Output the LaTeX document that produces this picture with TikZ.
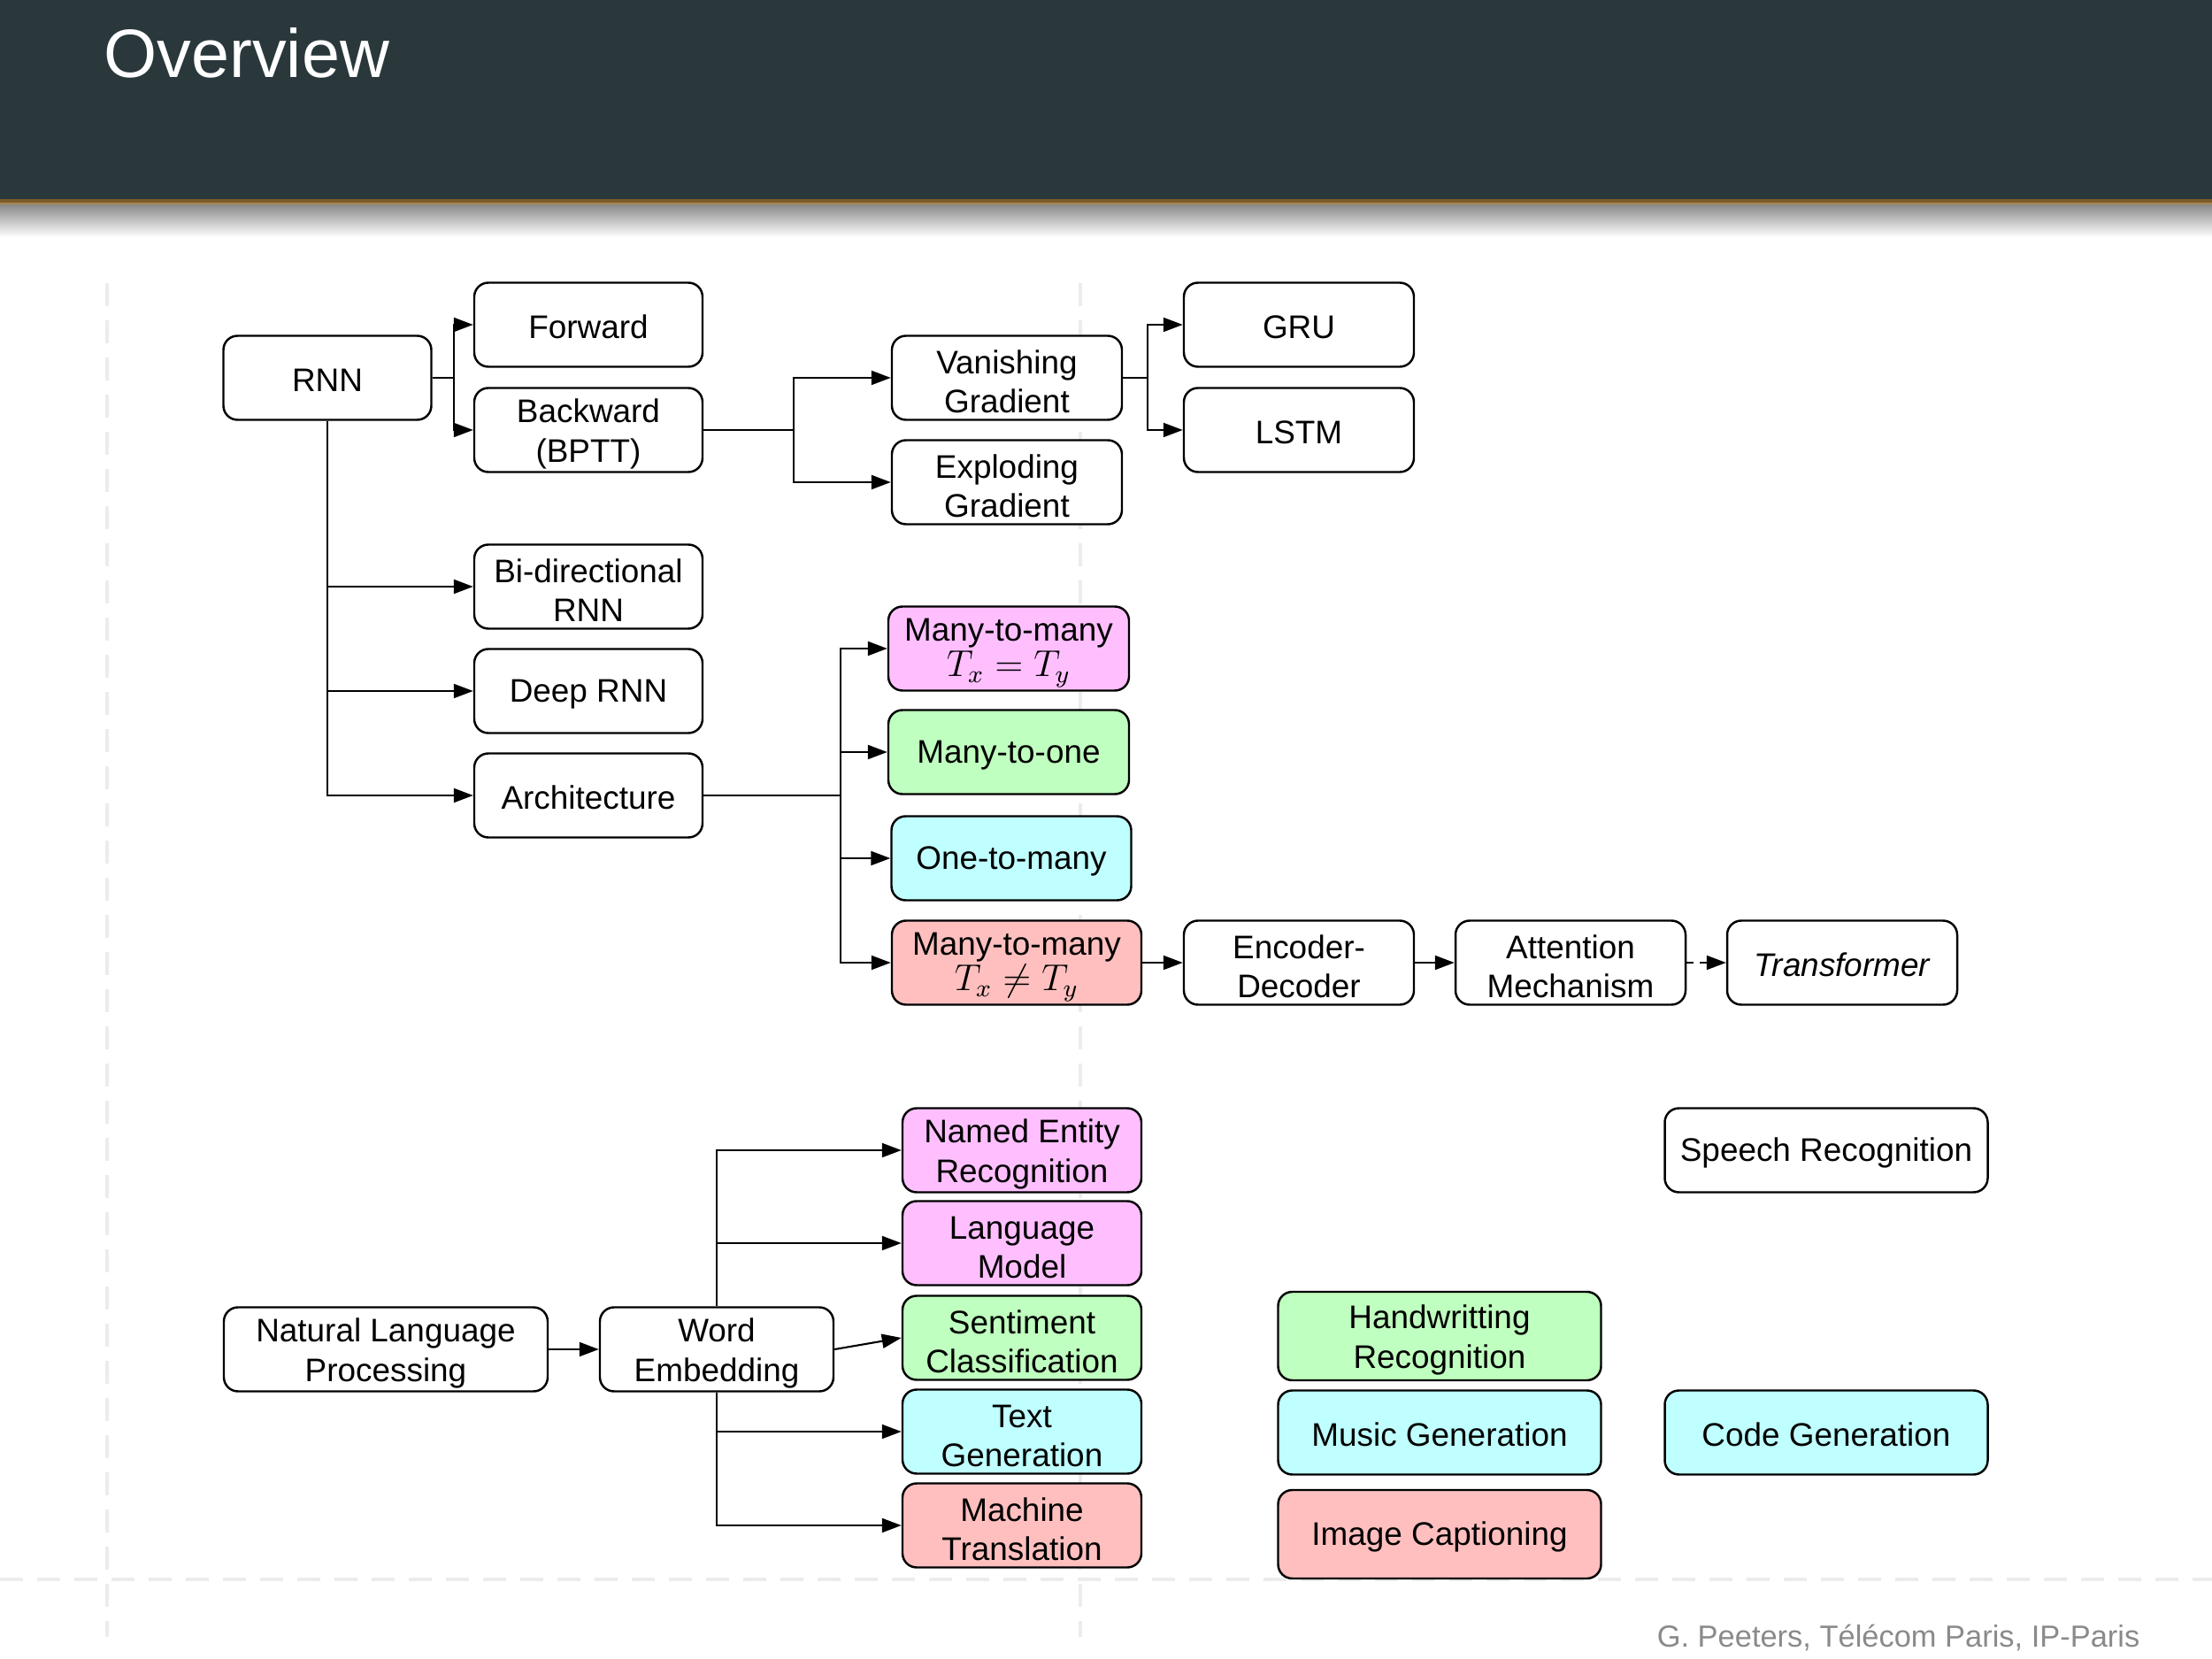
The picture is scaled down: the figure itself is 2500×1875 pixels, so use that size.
\documentclass[tikz,border=0pt]{standalone}
\usepackage{fontspec}
\setmainfont{Liberation Sans}
\usetikzlibrary{arrows.meta}
\definecolor{hdr}{HTML}{2A383C}
\definecolor{goldA}{HTML}{7B5B2B}
\definecolor{goldB}{HTML}{A98654}
\definecolor{pinkc}{HTML}{FFBFFF}
\definecolor{greenc}{HTML}{BFFFBF}
\definecolor{cyanc}{HTML}{BFFFFF}
\definecolor{redc}{HTML}{FFBFBF}
\definecolor{gridc}{HTML}{ECECEC}
\definecolor{footc}{HTML}{8A8A8A}
\newcommand{\bigmath}[1]{{\fontsize{11.8}{12.7}\selectfont$#1$}}
\newcommand{\tstrut}{\rule{0pt}{10pt}}
\begin{document}
\begin{tikzpicture}[x=0.1mm,y=-0.1mm,
  box/.style={draw=black, line width=0.7pt, rounded corners=1.6mm, align=center,
    inner sep=0pt, font=\fontsize{10.5}{12.7}\selectfont,
    minimum height=9.5mm, minimum width=25.8mm, fill=white,
    execute at begin node={\rule{0pt}{9.1pt}}},
  arr/.style={line width=0.6pt, -{Triangle[length=2.2mm,width=1.6mm]}},
  gridline/.style={gridc, line width=1.2pt, dash pattern=on 2.6mm off 1.6mm}]
\useasboundingbox (0,0) rectangle (2500,1875);
% background grid traces
\draw[gridline] (121,320) -- (121,1850);
\draw[gridline] (1221,320) -- (1221,1850);
\draw[gridline] (0,1785) -- (2500,1785);
% header
\fill[hdr] (0,0) rectangle (2500,225);
\fill[goldA] (0,225) rectangle (2500,229);
\fill[goldB] (0,229) rectangle (2500,232);
\shade[top color=black!45, bottom color=white] (0,232) rectangle (2500,268);
\node[anchor=base west, text=white, font=\fontsize{22}{26}\selectfont, inner sep=0pt] (title) at (117,88) {Overview};
% top tree
\node[box, minimum width=23.5mm] (rnn) at (370,427) {RNN};
\node[box] (fwd) at (665,367) {Forward};
\node[box] (bwd) at (665,486) {\tstrut Backward\\(BPTT)};
\node[box, minimum width=26mm] (van) at (1138,427) {\tstrut Vanishing\\Gradient};
\node[box, minimum width=26mm] (exp) at (1138,545) {\tstrut Exploding\\Gradient};
\node[box, minimum width=26mm] (gru) at (1468,367) {GRU};
\node[box, minimum width=26mm] (lstm) at (1468,486) {LSTM};
\node[box] (bid) at (665,663) {\tstrut Bi-directional\\RNN};
\node[box] (deep) at (665,781) {Deep RNN};
\node[box] (arch) at (665,899) {Architecture};
\node[box, fill=pinkc, minimum width=27.2mm] (mme) at (1140,733) {\tstrut Many-to-many\\[-1.3pt]\bigmath{T_x = T_y}};
\node[box, fill=greenc, minimum width=27.2mm] (mto) at (1140,850) {Many-to-one};
\node[box, fill=cyanc, minimum width=27.1mm] (otm) at (1143,970) {One-to-many};
\node[box, fill=redc, minimum width=28.2mm] (mmn) at (1149,1088) {\tstrut Many-to-many\\[-1.3pt]\bigmath{T_x \neq T_y}};
\node[box, minimum width=26mm] (encdec) at (1468,1088) {\tstrut Encoder-\\Decoder};
\node[box, minimum width=26mm] (att) at (1775,1088) {\tstrut Attention\\Mechanism};
\node[box, minimum width=26mm] (trans) at (2082,1088) {\itshape Transformer};
\draw[arr] (rnn.east) -- ++(24,0) |- (fwd.west);
\draw[arr] (rnn.east) -- ++(24,0) |- (bwd.west);
\draw[arr] (bwd.east) -- ++(102,0) |- (van.west);
\draw[arr] (bwd.east) -- ++(102,0) |- (exp.west);
\draw[arr] (van.east) -- ++(28,0) |- (gru.west);
\draw[arr] (van.east) -- ++(28,0) |- (lstm.west);
\draw[arr] (rnn.south) |- (bid.west);
\draw[arr] (rnn.south) |- (deep.west);
\draw[arr] (rnn.south) |- (arch.west);
\draw[arr] (arch.east) -- ++(155,0) |- (mme.west);
\draw[arr] (arch.east) -- ++(155,0) |- (mto.west);
\draw[arr] (arch.east) -- ++(155,0) |- (otm.west);
\draw[arr] (arch.east) -- ++(155,0) |- (mmn.west);
\draw[arr] (mmn.east) -- (encdec.west);
\draw[arr] (encdec.east) -- (att.west);
\draw[arr, dash pattern=on 0.8mm off 0.7mm] (att.east) -- (trans.west);
% bottom tree
\node[box, minimum width=36.6mm] (nlp) at (436,1525) {\tstrut Natural Language\\Processing};
\node[box, minimum width=26.4mm] (we) at (810,1525) {\tstrut Word\\Embedding};
\node[box, fill=pinkc, minimum width=27mm] (ner) at (1155,1300) {\tstrut Named Entity\\Recognition};
\node[box, fill=pinkc, minimum width=27mm] (lm) at (1155,1405) {\tstrut Language\\Model};
\node[box, fill=greenc, minimum width=27mm] (sc) at (1155,1512) {\tstrut Sentiment\\Classification};
\node[box, fill=cyanc, minimum width=27mm] (tg) at (1155,1618) {\tstrut Text\\Generation};
\node[box, fill=redc, minimum width=27mm] (mt) at (1155,1724) {\tstrut Machine\\Translation};
\draw[arr] (nlp.east) -- (we.west);
\draw[arr] (we.north) |- (ner.west);
\draw[arr] (we.north) |- (lm.west);
\draw[arr] (we.east) -- (sc.west);
\draw[arr] (we.south) |- (tg.west);
\draw[arr] (we.south) |- (mt.west);
% standalone application boxes
\node[box, fill=greenc, minimum width=36.5mm, minimum height=10mm] (hwr) at (1627,1510) {\tstrut Handwritting\\Recognition};
\node[box, fill=cyanc, minimum width=36.5mm] (mus) at (1627,1619) {Music Generation};
\node[box, fill=redc, minimum width=36.5mm, minimum height=10mm] (img) at (1627,1734) {Image Captioning};
\node[box, minimum width=36.5mm] (speech) at (2064,1300) {Speech Recognition};
\node[box, fill=cyanc, minimum width=36.5mm] (code) at (2064,1619) {Code Generation};
% footer
\node[anchor=base east, text=footc, font=\fontsize{9.8}{11}\selectfont, inner sep=0pt] (foot) at (2419,1861) {G. Peeters, Télécom Paris, IP-Paris};
\end{tikzpicture}
\end{document}
